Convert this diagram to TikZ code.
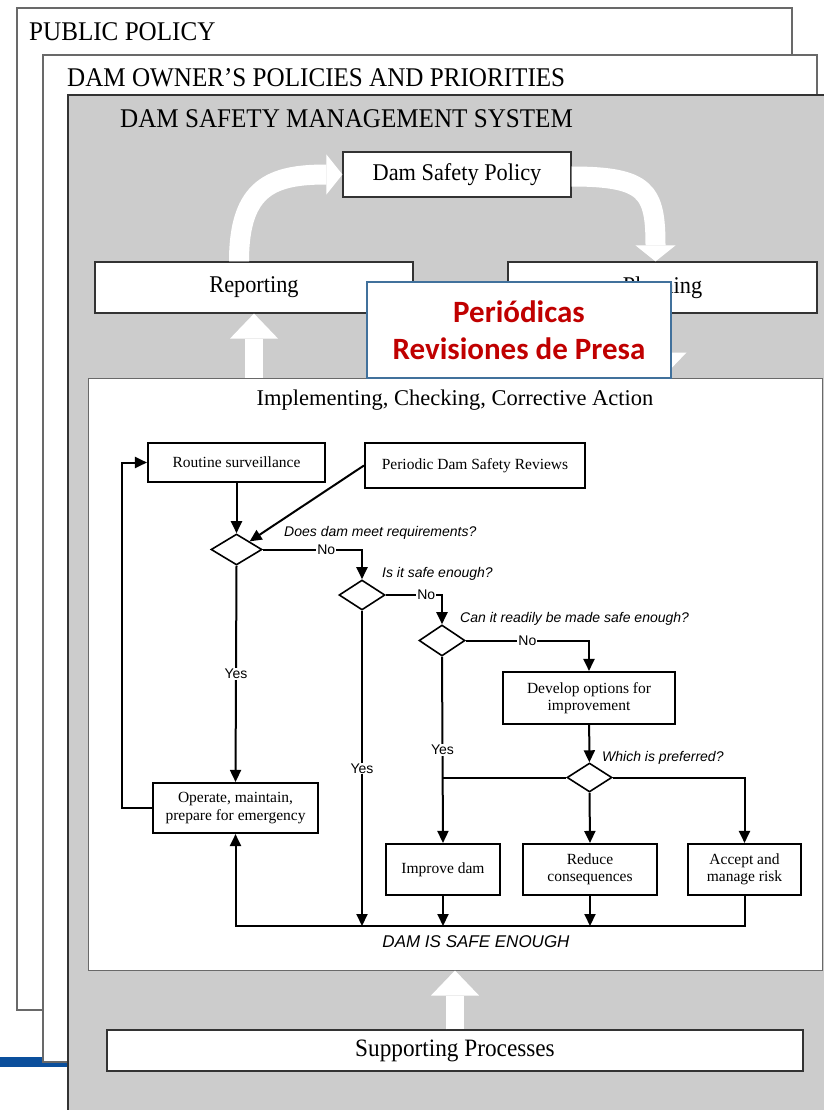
\documentclass[tikz,border=0pt]{standalone}
\usepackage{fontspec}
\setmainfont{Liberation Serif}
\setsansfont{Liberation Sans}
\newfontfamily\condserif{Liberation Serif}[FakeStretch=0.93]
\newfontfamily\calloutfont{Carlito}
\usetikzlibrary{arrows.meta,shapes.geometric}
\definecolor{panelgrey}{RGB}{204,204,204}
\definecolor{framegrey}{RGB}{105,105,105}
\definecolor{calloutblue}{RGB}{65,113,156}
\definecolor{calloutred}{RGB}{192,0,0}
\definecolor{barblue}{RGB}{11,79,156}
\tikzset{
  layer/.style={draw=framegrey, line width=1.3pt, fill=white},
  layertitle/.style={anchor=base west, inner sep=0pt, font=\condserif\fontsize{27}{32}\selectfont},
  stagebox/.style={draw=black!80, line width=1.2pt, fill=white, inner sep=0pt,
    font=\condserif\fontsize{24}{28}\selectfont},
  flowbox/.style={draw=black, line width=2.1pt, fill=white, inner sep=0pt, align=center,
    font=\fontsize{15.5}{17.5}\selectfont},
  decision/.style={draw=black, line width=1.6pt, fill=white, diamond, inner sep=0pt},
  question/.style={anchor=base west, inner sep=0pt, font=\sffamily\itshape\fontsize{14}{16}\selectfont},
  answer/.style={fill=white, inner sep=1pt, font=\sffamily\fontsize{14}{16}\selectfont},
  flow/.style={line width=2pt, -{Triangle[length=12pt,width=11pt]}},
  link/.style={line width=2pt},
  bendarrow/.style={white, line width=20pt, -{Triangle[length=16pt,width=40pt,line width=0pt]}},
  bigarrow/.style={white, line width=18pt, -{Triangle[length=25pt,width=48pt,line width=0pt]}},
  callout/.style={draw=calloutblue, line width=2.6pt, fill=white, align=center, inner sep=0pt,
    text=calloutred, font=\calloutfont\bfseries\fontsize{31}{37}\selectfont},
}
\begin{document}
\begin{tikzpicture}[x=1pt,y=-1pt]
        \useasboundingbox (0,0) rectangle (823,1110);
        %% Outer layers
        \fill[barblue] (0,1057) rectangle (68,1067);
        \draw[layer] (17,8) rectangle (792,1010);
        \node[layertitle] at (29,41) {PUBLIC POLICY};
        \draw[layer] (43,55) rectangle (817,1062);
        \node[layertitle] at (67,87) {DAM OWNER’S POLICIES AND PRIORITIES};
        \draw[draw=black!80, line width=1.3pt, fill=panelgrey] (68,95) rectangle (840,1130);
        \node[layertitle] at (120,128) {DAM SAFETY MANAGEMENT SYSTEM};
        %% Management cycle
        \node[stagebox, minimum width=228, minimum height=45] (policy) at (457,174.5) {Dam Safety Policy};
        \node[stagebox, minimum width=318, minimum height=51] (reporting) at (254,287.5) {Reporting};
        \node[stagebox, minimum width=309, minimum height=51] (planning) at (662.5,287.5) {Planning};
        \node[draw=framegrey, line width=1pt, fill=white, minimum width=734, minimum height=592] (impl) at (455,674) {};
        \node[stagebox, minimum width=696, minimum height=41, font=\condserif\fontsize{25}{30}\selectfont] (support) at (455,1050.5) {Supporting Processes};
        \node[font=\fontsize{22.5}{26}\selectfont] (impltitle) at (455,400) {Implementing, Checking, Corrective Action};
        \draw[bendarrow] ([xshift=-15pt]reporting.north) .. controls +(0,-75) and +(-70,0) .. (policy.west);
        \draw[bendarrow] ([yshift=-2pt]policy.east) .. controls +(75,0) and +(0,-70) .. ([xshift=-7pt]planning.north);
        \draw[bigarrow] (impl.north -| reporting.south) -- (reporting.south);
        \draw[bigarrow] (planning.south) -- (planning.south |- impl.north);
        \draw[bigarrow] (support.north) -- (support.north |- impl.south);
        %% Flow chart
        \node[flowbox, minimum width=177, minimum height=39] (routine) at (236.5,462.5) {Routine surveillance};
        \node[flowbox, minimum width=220, minimum height=45] (reviews) at (475,465.5) {Periodic Dam Safety Reviews};
        \node[decision, minimum width=51, minimum height=31] (d1) at (236.5,549.5) {};
        \node[decision, minimum width=46, minimum height=30] (d2) at (362,595) {};
        \node[decision, minimum width=46, minimum height=31] (d3) at (442,640.5) {};
        \node[flowbox, minimum width=172, minimum height=52] (develop) at (589,698) {Develop options for\\improvement};
        \node[decision, minimum width=45, minimum height=29] (d4) at (589.5,777.5) {};
        \node[flowbox, minimum width=165, minimum height=50] (operate) at (235.5,808) {Operate, maintain,\\prepare for emergency};
        \node[flowbox, minimum width=114, minimum height=51] (improve) at (443,869.5) {Improve dam};
        \node[flowbox, minimum width=134, minimum height=51] (reduce) at (590,869.5) {Reduce\\consequences};
        \node[flowbox, minimum width=113, minimum height=51] (accept) at (744.5,869.5) {Accept and\\manage risk};
        \coordinate (safe) at (476,926);
        \node[font=\sffamily\itshape\fontsize{17}{20}\selectfont] (safetext) at (476,942) {DAM IS SAFE ENOUGH};
        %% Questions
        \node[question] (q1) at (284,536) {Does dam meet requirements?};
        \node[question] (q2) at (382,577) {Is it safe enough?};
        \node[question] (q3) at (460,622) {Can it readily be made safe enough?};
        \node[question] (q4) at (602,761) {Which is preferred?};
        %% Connectors
        \draw[flow] (routine) -- (d1);
        \draw[flow] (reviews.west) -- (d1.north east);
        \draw[flow] (d1.east) -| node[answer, pos=0.32] {No} (d2.north);
        \draw[flow] (d2.east) -| node[answer, pos=0.36] {No} (d3.north);
        \draw[flow] (d3.east) -| node[answer, pos=0.25] {No} (develop.north);
        \draw[flow] (develop) -- (d4);
        \draw[flow] (d1.south) -- node[answer] {Yes} (operate.north);
        \draw[flow] (d2.south) -- node[answer] {Yes} (d2 |- safe);
        \draw[flow] (d3.south) -- node[answer] {Yes} (improve.north);
        \draw[link] (d4.west) -- (d4.west -| improve.north);
        \draw[flow] (d4.south) -- (reduce.north);
        \draw[flow] (d4.east) -| (accept.north);
        \draw[flow] (improve) -- (improve |- safe);
        \draw[flow] (reduce) -- (reduce |- safe);
        \draw[flow] (accept.south) |- (operate.south |- safe) -- (operate.south);
        \draw[flow] (operate.west) -- ++(-30,0) |- (routine.west);
        %% Callout
        \node[callout, minimum width=304, minimum height=96] (pdsr) at (519,330) {Periódicas\\Revisiones de Presa};
    \end{tikzpicture}
\end{document}
